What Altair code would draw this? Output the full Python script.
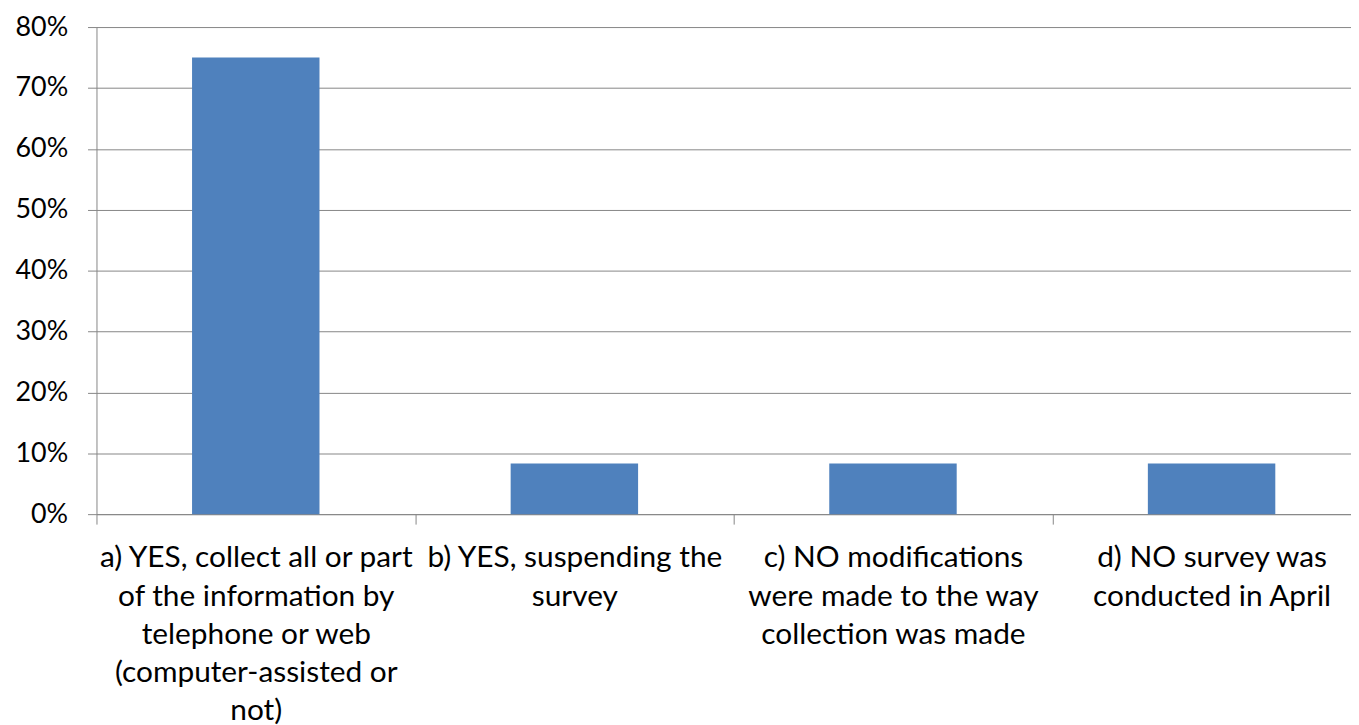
import altair as alt
import pandas as pd

categories = [
    "a) YES, collect all or part|of the information by|telephone or web|(computer-assisted or|not)",
    "b) YES, suspending the|survey",
    "c) NO modifications|were made to the way|collection was made",
    "d) NO survey was|conducted in April",
]
values = [0.75, 0.0833, 0.0833, 0.0833]
y_ticks = [0, 0.1, 0.2, 0.3, 0.4, 0.5, 0.6, 0.7, 0.8]

df = pd.DataFrame({"category": categories, "value": values})

FONT = "Lato"
GRAY = "#868686"

chart = (
    alt.Chart(df)
    .mark_bar(color="#4F81BD", width=alt.RelativeBandSize(0.4))
    .encode(
        x=alt.X(
            "category:N",
            sort=categories,
            scale=alt.Scale(paddingInner=0, paddingOuter=0, range=[0, 1282]),
            axis=alt.Axis(
                title=None,
                labelAngle=0,
                labelExpr="isValid(datum.value) ? split(datum.value, '|') : ''",
                labelFont=FONT,
                labelFontSize=30,
                labelColor="black",
                labelLineHeight=38.5,
                labelPadding=19,
                labelLimit=1000,
                labelOverlap=False,
                labelBound=False,
                labelFlush=False,
                tickBand="extent",
                tickSize=10,
                tickColor=GRAY,
                domainColor=GRAY,
                grid=False,
            ),
        ),
        y=alt.Y(
            "value:Q",
            scale=alt.Scale(domain=[0, 0.8], nice=False),
            axis=alt.Axis(
                title=None,
                values=y_ticks,
                format=".0%",
                labelFont=FONT,
                labelFontSize=27,
                labelColor="black",
                labelPadding=20,
                tickSize=9,
                tickColor=GRAY,
                domainColor=GRAY,
                gridColor=GRAY,
                grid=True,
            ),
        ),
    )
    .properties(
        width=1262,
        height=490,
        autosize=alt.AutoSizeParams(type="none"),
        padding={"left": 89, "top": 17, "right": 0, "bottom": 222},
    )
    .configure_view(stroke=None)
)

chart.save("out.html", embed_options={"renderer": "svg", "actions": False})
